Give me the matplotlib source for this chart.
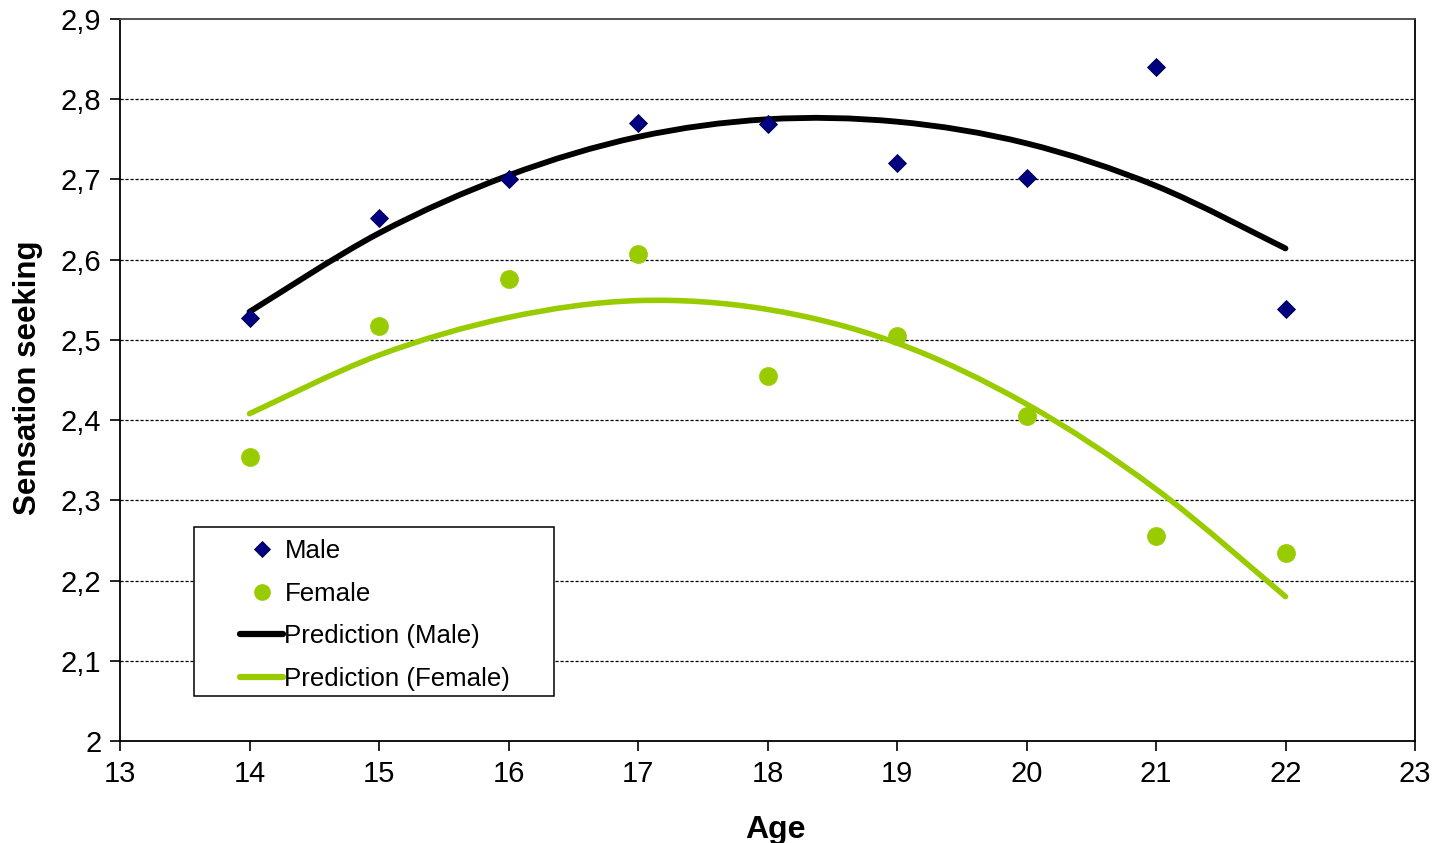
import matplotlib
matplotlib.use("Agg")
import matplotlib.pyplot as plt
from matplotlib.patches import Rectangle, PathPatch
from matplotlib.path import Path
from matplotlib.lines import Line2D

plt.rcParams['font.family'] = ['Liberation Sans', 'DejaVu Sans']

# ---- data ----
ages = [14, 15, 16, 17, 18, 19, 20, 21, 22]
male = [2.527, 2.652, 2.700, 2.770, 2.769, 2.720, 2.702, 2.840, 2.538]
female = [2.354, 2.517, 2.576, 2.607, 2.455, 2.505, 2.405, 2.256, 2.234]
pred_male = [2.535, 2.633, 2.705, 2.753, 2.775, 2.772, 2.745, 2.692, 2.614]
pred_female = [2.408, 2.481, 2.528, 2.549, 2.538, 2.496, 2.420, 2.314, 2.180]

x_ticks = [13, 14, 15, 16, 17, 18, 19, 20, 21, 22, 23]
y_ticks = [2.0, 2.1, 2.2, 2.3, 2.4, 2.5, 2.6, 2.7, 2.8, 2.9]
y_tick_labels = ["2", "2,1", "2,2", "2,3", "2,4", "2,5", "2,6", "2,7", "2,8", "2,9"]

NAVY = "#000080"
GREEN = "#99CC00"


def smooth_path(xs, ys):
    """Smoothed line through the points (Catmull-Rom drawn as Bezier curves)."""
    pts = list(zip(xs, ys))
    n = len(pts)
    verts = [pts[0]]
    codes = [Path.MOVETO]
    for i in range(n - 1):
        p0 = pts[i - 1] if i > 0 else pts[i]
        p1 = pts[i]
        p2 = pts[i + 1]
        p3 = pts[i + 2] if i + 2 < n else pts[i + 1]
        c1 = (p1[0] + (p2[0] - p0[0]) / 6.0, p1[1] + (p2[1] - p0[1]) / 6.0)
        c2 = (p2[0] - (p3[0] - p1[0]) / 6.0, p2[1] - (p3[1] - p1[1]) / 6.0)
        verts += [c1, c2, p2]
        codes += [Path.CURVE4] * 3
    return Path(verts, codes)


fig = plt.figure(figsize=(14.35, 8.43), dpi=100)
ax = fig.add_axes([120 / 1435, 1 - 741 / 843, 1295 / 1435, 722 / 843])

ax.set_xlim(13, 23)
ax.set_ylim(2.0, 2.9)

# gridlines
for yv in y_ticks[1:-1]:
    ax.axhline(yv, color="black", lw=0.9, ls=(0, (2.5, 1.5)), zorder=1)

ax.add_patch(PathPatch(smooth_path(ages, pred_male), facecolor="none",
                       edgecolor="black", lw=4.2, capstyle="round",
                       joinstyle="round", zorder=2))
ax.add_patch(PathPatch(smooth_path(ages, pred_female), facecolor="none",
                       edgecolor=GREEN, lw=4.0, capstyle="round",
                       joinstyle="round", zorder=2))
ax.plot(ages, male, ls="none", marker="D", ms=9.0, mfc=NAVY, mec="#000040",
        mew=0.6, zorder=3)
ax.plot(ages, female, ls="none", marker="o", ms=13.0, mfc=GREEN, mec=GREEN,
        mew=0.5, zorder=3)

ax.set_xticks(x_ticks)
ax.set_xticklabels([str(v) for v in x_ticks])
ax.set_yticks(y_ticks)
ax.set_yticklabels(y_tick_labels)
ax.tick_params(axis="both", direction="out", length=7.5, width=1.2,
               labelsize=21, colors="black")
ax.tick_params(axis="y", pad=6)
ax.tick_params(axis="x", pad=6)

for sp in ax.spines.values():
    sp.set_color("black")
    sp.set_linewidth(1.3)
ax.spines["top"].set_color("#444444")

ax.set_xlabel("Age", fontsize=23, fontweight="bold")
ax.set_ylabel("Sensation seeking", fontsize=22.5, fontweight="bold")
ax.xaxis.set_label_coords((775 - 120) / 1295, (741 - 815) / 722)
ax.yaxis.set_label_coords((43 - 120) / 1295, 0.5 + (741 - 378 - 361) / 722)

# legend
handles = [
    Line2D([], [], ls="none", marker="D", ms=8, mfc=NAVY, mec="#000040", mew=0.6),
    Line2D([], [], ls="none", marker="o", ms=11, mfc=GREEN, mec=GREEN),
    Line2D([], [], color="black", lw=4.5, solid_capstyle="round"),
    Line2D([], [], color=GREEN, lw=4.5, solid_capstyle="round"),
]
labels = ["Male", "Female", "Prediction (Male)", "Prediction (Female)"]
leg = ax.legend(handles, labels, loc="upper left",
                bbox_to_anchor=((240 - 120) / 1295, (741 - 539) / 722),
                frameon=False, fontsize=18.6, handlelength=1.67,
                handletextpad=0.05, labelspacing=0.725, borderpad=0,
                borderaxespad=0)
leg.set_zorder(6)
ax.add_patch(Rectangle(((194 - 120) / 1295, (741 - 696) / 722),
                       (554 - 194) / 1295, (696 - 527) / 722,
                       transform=ax.transAxes, facecolor="white",
                       edgecolor="black", lw=1.1, zorder=5))

fig.savefig("out.png", dpi=100)
